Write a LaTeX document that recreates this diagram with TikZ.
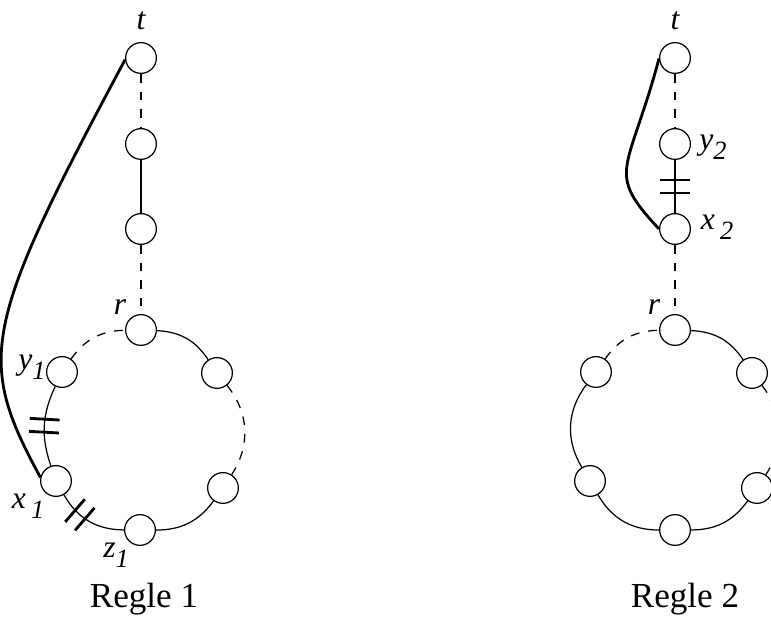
\documentclass[tikz,border=0pt]{standalone}
\usepackage{fontspec}
\setmainfont{Liberation Serif}
\usepackage{tikz}
\usetikzlibrary{decorations.markings}

\newcommand{\vsub}[1]{\raisebox{-0.3em}{\fontsize{15}{17}\selectfont #1}}

\tikzset{
    vtx/.style={circle, draw, line width=0.7pt, minimum size=17.5pt, inner sep=0pt},
    solidlink/.style={line width=0.7pt},
    dashlink/.style={line width=0.7pt, dash pattern=on 5pt off 5pt},
    bigpath/.style={line width=1.6pt},
    hash/.style={postaction={decorate, decoration={markings, mark=at position #1 with {
        \draw[line width=1.6pt, solid] (-3.7pt,-8.5pt) -- (-3.7pt,8.5pt) (3.7pt,-8.5pt) -- (3.7pt,8.5pt);}}}},
    hash/.default=0.5,
    lbl/.style={font=\fontsize{18}{21}\selectfont\itshape, anchor=base, inner sep=0pt},
    rulename/.style={font=\fontsize{20}{24}\selectfont, anchor=base, inner sep=0pt}
}

\begin{document}
\begin{tikzpicture}[x=0.02cm, y=0.02cm]
    \useasboundingbox (0,0) rectangle (771,617);

    % Regle 1 - the path from t down to r
    \node[vtx] (t1) at (141,559) {};
    \node[vtx] (a1) at (141,473) {};
    \node[vtx] (b1) at (141,388) {};
    \node[vtx] (r1) at (141,287) {};
    % Regle 1 - the cycle through r
    \node[vtx] (u1) at (217,244) {};
    \node[vtx] (w1) at (223,129) {};
    \node[vtx] (z1) at (140,87) {};
    \node[vtx] (x1) at (56,136) {};
    \node[vtx] (y1) at (62,245) {};

    \draw[dashlink] (t1) -- (a1);
    \draw[solidlink] (a1) -- (b1);
    \draw[dashlink] (b1) -- (r1);
    \draw[solidlink] (r1) to[bend left=27] (u1);
    \draw[dashlink] (u1) to[bend left=36] (w1);
    \draw[solidlink] (w1) to[bend left=27] (z1);
    \draw[solidlink, hash=0.65] (z1) to[bend left=30] (x1);
    \draw[solidlink, hash] (x1) to[bend left=22] (y1);
    \draw[dashlink] (y1) to[bend left=27] (r1);
    \draw[bigpath] (t1.186) .. controls (-18,290) and (-24,258) .. (x1.167);

    % Regle 1 - labels
    \node[lbl] (lt1) at (141,587) {t};
    \node[lbl] (lr1) at (120,302) {r};
    \node[lbl] (ly1) at (32,247) {y\vsub{1}};
    \node[lbl] (lx1) at (28,108) {x\,\vsub{1}};
    \node[lbl] (lz1) at (116,59) {z\vsub{1}};
    \node[rulename] (n1) at (144,9) {Regle 1};

    % Regle 2 - the path from t down to r
    \node[vtx] (t2) at (675,559) {};
    \node[vtx] (y2) at (675,473) {};
    \node[vtx] (x2) at (675,388) {};
    \node[vtx] (r2) at (675,287) {};
    % Regle 2 - the cycle through r
    \node[vtx] (u2) at (752,244) {};
    \node[vtx] (w2) at (757,129) {};
    \node[vtx] (b2) at (675,87) {};
    \node[vtx] (v2) at (590,136) {};
    \node[vtx] (s2) at (596,245) {};

    \draw[dashlink] (t2) -- (y2);
    \draw[solidlink, hash] (y2) -- (x2);
    \draw[dashlink] (x2) -- (r2);
    \draw[solidlink] (r2) to[bend left=27] (u2);
    \draw[dashlink] (u2) to[bend left=36] (w2);
    \draw[solidlink] (w2) to[bend left=27] (b2);
    \draw[solidlink] (b2) to[bend left=30] (v2);
    \draw[solidlink] (v2) to[bend left=34] (s2);
    \draw[dashlink] (s2) to[bend left=27] (r2);
    \draw[bigpath] (t2.182) to[out=-105, in=133, out looseness=1.8, in looseness=1.2] (x2.180);

    % Regle 2 - labels
    \node[lbl] (lt2) at (675,587) {t};
    \node[lbl] (lr2) at (654,302) {r};
    \node[lbl] (ly2) at (713,467) {y\vsub{2}};
    \node[lbl] (lx2) at (717,387) {x\,\vsub{2}};
    \node[rulename] (n2) at (685,9) {Regle 2};
\end{tikzpicture}
\end{document}
